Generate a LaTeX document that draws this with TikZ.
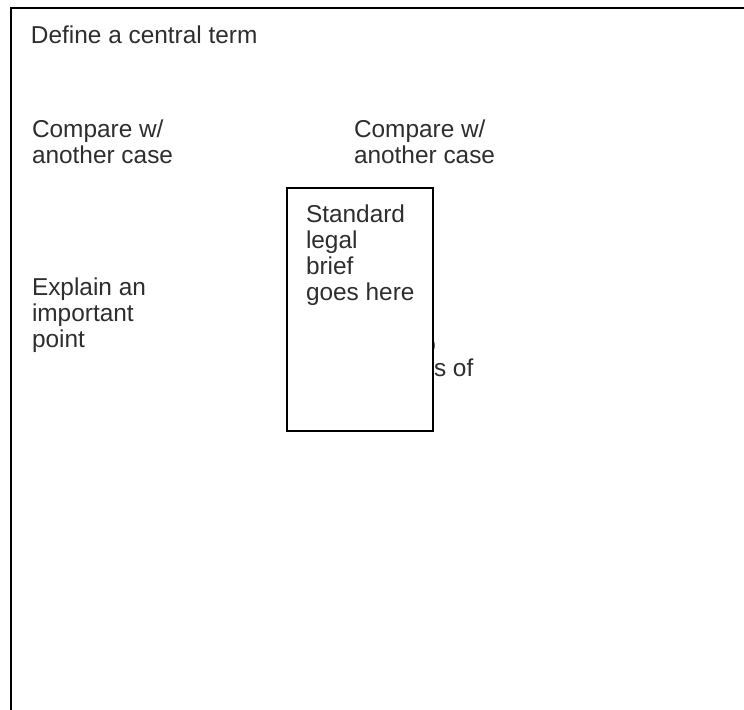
\documentclass[tikz,border=0pt]{standalone}
\usepackage{fontspec}
\setmainfont{Liberation Sans}
\begin{document}
\begin{tikzpicture}[x=0.75pt,y=-0.75pt,
  txt/.style={inner sep=0pt,outer sep=0pt,anchor=north west,align=left,text=black!82,
    font=\fontsize{18.3}{19.5}\selectfont},
  frag/.style={inner sep=0pt,outer sep=0pt,text=black!82,font=\fontsize{18.3}{19.5}\selectfont},
  boxline/.style={draw=black,line width=1.5pt}]
\useasboundingbox (0,0) rectangle (744,710);
\clip (0,0) rectangle (744,710);
\fill[white] (0,0) rectangle (744,710);
% outer frame (continues beyond the visible area)
\node[boxline,inner sep=0pt,outer sep=0pt,anchor=north west,minimum width=800*0.75pt,minimum height=760*0.75pt] (frame) at (11,8) {};
% texts
\node[txt] (define) at (31,26) {Define a central term};
\node[txt] (cmpA) at (32,120) {Compare w/\\another case};
\node[txt] (cmpB) at (354,120) {Compare w/\\another case};
\node[txt] (explain) at (32,278) {Explain an\\important\\point};
% partly hidden text behind the brief box
\node[frag,anchor=base east] (hidA) at (436,353) {o};
\node[frag,anchor=base west] (hidB) at (434,377) {s of};
% brief box
\node[boxline,fill=white,inner sep=0pt,outer sep=0pt,anchor=north west,minimum width=146*0.75pt,minimum height=243*0.75pt] (brief) at (287,188) {};
\node[txt] (brieftxt) at (306,205) {Standard\\legal\\brief\\goes here};
\end{tikzpicture}
\end{document}
